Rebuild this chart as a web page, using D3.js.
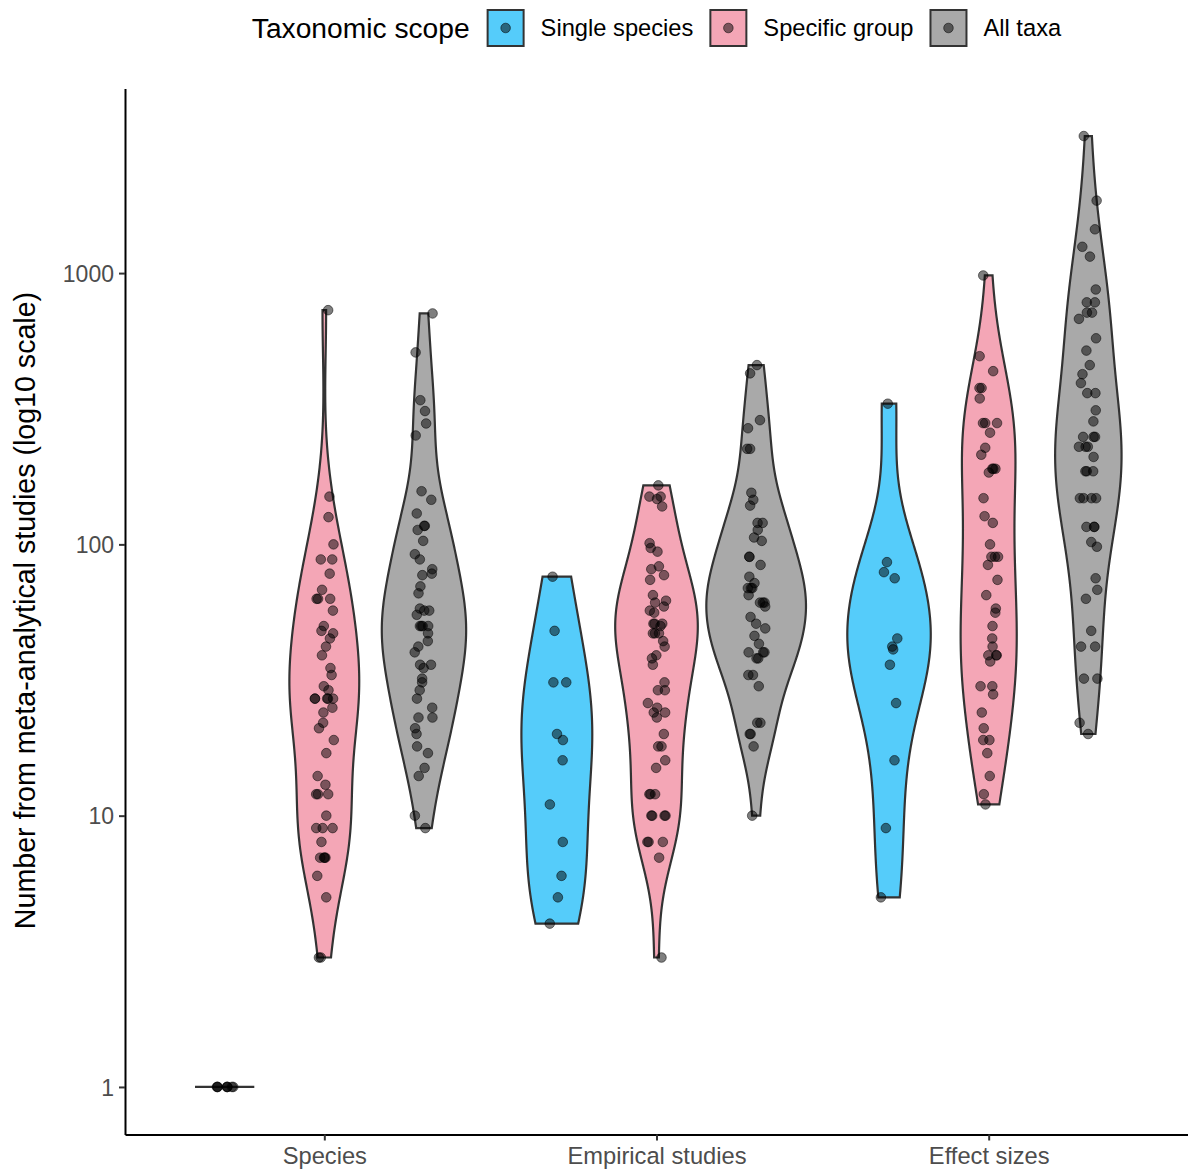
<!DOCTYPE html>
<html>
<head>
<meta charset="utf-8">
<script src="https://cdn.jsdelivr.net/npm/d3@7"></script>
<style>
  body { margin: 0; background: #ffffff; }
  text { font-family: "Liberation Sans", Arial, Helvetica, sans-serif; }
</style>
</head>
<body>
<svg id="chart" width="1188" height="1169"></svg>
<script>
// ---- data -------------------------------------------------------------
const categories = ["Species", "Empirical studies", "Effect sizes"];
const scopes = ["Single species", "Specific group", "All taxa"];
const scopeColors = ["#55CCFA", "#F4A6B6", "#A9A9A9"];
const yTicks = [1, 10, 100, 1000];

// counts per meta-analysis, by measure and taxonomic scope
const speciesSingle = [1, 1, 1, 1, 1, 1, 1, 1];
const speciesGroup = [730, 150, 126, 100, 88, 88, 78, 68, 63, 63, 63, 57, 50, 48, 47, 45, 42, 39,
  35, 33, 30, 29, 27, 27, 27, 27, 27, 25, 24, 22, 21, 19, 17, 14, 13, 12, 12, 12, 10, 9, 9, 9,
  8, 7, 7, 7, 7, 6, 5, 3, 3];
const speciesAll = [710, 510, 340, 310, 279, 252, 157, 146, 130, 117, 117, 113, 103, 92, 88, 81,
  78, 77, 70, 66, 58, 57, 57, 55, 50, 50, 50, 50, 47, 44, 42, 40, 36, 36, 35, 32, 31, 29, 27,
  25, 23, 23, 21, 20, 18, 17, 15, 14, 10, 9];
const empiricalSingle = [76, 48, 31, 31, 20, 19, 16, 11, 8, 6, 5, 4];
const empiricalGroup = [165, 150, 150, 147, 138, 101, 97, 94, 83, 81, 77, 74, 65, 62, 61, 59, 57,
  56, 51, 51, 51, 50, 47, 47, 47, 44, 42, 39, 38, 36, 31, 29, 29, 26, 25, 24, 24, 23, 20, 18,
  18, 16, 15, 12, 12, 12, 10, 10, 10, 10, 8, 8, 8, 7, 3];
const empiricalAll = [458, 427, 287, 268, 225, 225, 155, 146, 139, 120, 120, 113, 106, 103, 90,
  90, 84, 76, 72, 69, 69, 69, 65, 61, 61, 61, 59, 54, 51, 49, 46, 43, 40, 40, 40, 38, 38, 33,
  33, 30, 22, 22, 20, 20, 18, 10];
const effectSingle = [330, 86, 79, 75, 45, 42, 41, 36, 26, 16, 9, 5];
const effectGroup = [980, 494, 435, 377, 377, 345, 280, 280, 280, 258, 227, 214, 190, 190, 190,
  184, 148, 127, 120, 100, 90, 90, 90, 84, 74, 65, 58, 56, 50, 45, 42, 39, 39, 39, 37, 30, 30,
  28, 24, 21, 19, 19, 17, 14, 12, 11];
const effectAll = [3200, 1850, 1450, 1250, 1150, 870, 780, 780, 715, 715, 678, 575, 518, 458, 424,
  393, 361, 361, 312, 284, 249, 249, 249, 229, 229, 229, 210, 186, 186, 186, 148, 148, 148, 148,
  116, 116, 116, 102, 98, 75, 68, 63, 48, 42, 42, 32, 32, 22, 20];

const groups = [
  { category: 0, scope: 0, values: speciesSingle },
  { category: 0, scope: 1, values: speciesGroup },
  { category: 0, scope: 2, values: speciesAll },
  { category: 1, scope: 0, values: empiricalSingle },
  { category: 1, scope: 1, values: empiricalGroup },
  { category: 1, scope: 2, values: empiricalAll },
  { category: 2, scope: 0, values: effectSingle },
  { category: 2, scope: 1, values: effectGroup },
  { category: 2, scope: 2, values: effectAll }
];

// ---- layout -----------------------------------------------------------
const svg = d3.select("#chart");
const panel = { left: 125, right: 1188, top: 88.5, bottom: 1134.5 };
const titleFont = 28.2, axisTitleFont = 28.6, yTickFont = 23, labelFont = 23.7;
const dodgeWidth = 0.9;
const groupWidth = dodgeWidth / scopes.length;

const x = d3.scaleLinear().domain([-0.6, categories.length - 1 + 0.6])
  .range([panel.left, panel.right]);

const allLog = groups.flatMap(g => g.values.map(v => Math.log10(v)));
const [lmin, lmax] = d3.extent(allLog);
const pad = (lmax - lmin) * 0.05;
const y = d3.scaleLog().domain([Math.pow(10, lmin - pad), Math.pow(10, lmax + pad)])
  .range([panel.bottom, panel.top]);

const groupCenter = g => g.category + (g.scope - (scopes.length - 1) / 2) * groupWidth;

// ---- kernel density on the log10 scale (R's nrd0 bandwidth) -----------
function bwNrd0(arr) {
  const n = arr.length;
  const s = arr.slice().sort(d3.ascending);
  const hi = n > 1 ? d3.deviation(s) : 0;
  const iqr = d3.quantileSorted(s, 0.75) - d3.quantileSorted(s, 0.25);
  let lo = Math.min(hi, iqr / 1.34);
  if (!(lo > 0)) lo = hi || Math.abs(s[0]) || 1;
  return 0.9 * lo * Math.pow(n, -0.2);
}
function kde(arr, n = 512) {
  const bw = bwNrd0(arr);
  const [a, b] = d3.extent(arr);
  const k = 1 / (arr.length * bw * Math.sqrt(2 * Math.PI));
  const out = [];
  for (let i = 0; i < n; i++) {
    const t = a + (b - a) * i / (n - 1);
    let s = 0;
    for (const v of arr) { const u = (t - v) / bw; s += Math.exp(-0.5 * u * u); }
    out.push([t, s * k]);
  }
  return out;
}
groups.forEach(g => { g.density = kde(g.values.map(v => Math.log10(v))); });
const maxDensity = d3.max(groups, g => d3.max(g.density, d => d[1]));

// ---- violins ------------------------------------------------------------
const unit = x(1) - x(0);
const halfMax = groupWidth / 2 * unit;
const line = d3.line();

svg.append("g").selectAll("path")
  .data(groups)
  .join("path")
  .attr("d", g => {
    const cx = x(groupCenter(g));
    const right = g.density.map(([t, d]) => [cx + d / maxDensity * halfMax, y(Math.pow(10, t))]);
    const left = g.density.slice().reverse().map(([t, d]) => [cx - d / maxDensity * halfMax, y(Math.pow(10, t))]);
    return line(right.concat(left)) + "Z";
  })
  .attr("fill", g => scopeColors[g.scope])
  .attr("stroke", "#333333")
  .attr("stroke-width", 2.2)
  .attr("stroke-linejoin", "miter");

// ---- jittered points ----------------------------------------------------
const pointR = 4.8;
const pointFill = "rgba(0,0,0,0.5)";
const rng = d3.randomLcg(0.2718);
const jitterPx = 9.5;
const pts = groups.flatMap(g => g.values.map(v => ({
  cx: x(groupCenter(g)) + (rng() * 2 - 1) * jitterPx,
  v
})));
svg.append("g").selectAll("circle")
  .data(pts)
  .join("circle")
  .attr("cx", d => d.cx)
  .attr("cy", d => y(d.v))
  .attr("r", pointR)
  .attr("fill", pointFill)
  .attr("stroke", pointFill)
  .attr("stroke-width", 1);

// ---- axes ----------------------------------------------------------------
const yAxis = svg.append("g")
  .attr("transform", `translate(${panel.left},0)`)
  .call(d3.axisLeft(y).tickValues(yTicks).tickFormat(d3.format("d")).tickSize(6).tickSizeOuter(0).tickPadding(5));
const xAxis = svg.append("g")
  .attr("transform", `translate(0,${panel.bottom})`)
  .call(d3.axisBottom(x).tickValues(d3.range(categories.length)).tickFormat(i => categories[i])
    .tickSize(6).tickSizeOuter(0).tickPadding(6));
[yAxis, xAxis].forEach(ax => {
  ax.select(".domain").attr("stroke", "#000").attr("stroke-width", 2);
  ax.selectAll(".tick line").attr("stroke", "#333333").attr("stroke-width", 2);
  ax.selectAll(".tick text").attr("fill", "#4D4D4D")
    .style("font-family", '"Liberation Sans", Arial, sans-serif');
});
yAxis.selectAll(".tick text").style("font-size", yTickFont + "px").attr("dy", "0.36em");
xAxis.selectAll(".tick text").style("font-size", labelFont + "px").attr("dy", "0.75em");

svg.append("text")
  .attr("transform", `translate(35,${(panel.top + panel.bottom) / 2 - 1}) rotate(-90)`)
  .attr("text-anchor", "middle")
  .style("font-size", axisTitleFont + "px")
  .attr("fill", "#000")
  .text("Number from meta-analytical studies (log10 scale)");

// ---- legend ----------------------------------------------------------------
const legend = svg.append("g");
const keySize = 36, legendMid = 28;
const title = legend.append("text")
  .attr("y", legendMid).attr("dy", "0.35em")
  .style("font-size", titleFont + "px").attr("fill", "#000")
  .text("Taxonomic scope");
const labels = scopes.map(s => legend.append("text")
  .attr("y", legendMid).attr("dy", "0.35em")
  .style("font-size", labelFont + "px").attr("fill", "#000").text(s));
const gapTitle = 18, gapKey = 17, gapItem = 17;
const widths = labels.map(l => l.node().getComputedTextLength());
const titleW = title.node().getComputedTextLength();
const total = titleW + gapTitle + d3.sum(widths) + scopes.length * (keySize + gapKey) + (scopes.length - 1) * gapItem;
let cursor = (panel.left + panel.right) / 2 - total / 2;
title.attr("x", cursor);
cursor += titleW + gapTitle;
scopes.forEach((s, i) => {
  legend.append("rect")
    .attr("x", cursor).attr("y", legendMid - keySize / 2)
    .attr("width", keySize).attr("height", keySize)
    .attr("fill", scopeColors[i]).attr("stroke", "#333333").attr("stroke-width", 2);
  legend.append("circle")
    .attr("cx", cursor + keySize / 2).attr("cy", legendMid).attr("r", pointR)
    .attr("fill", pointFill).attr("stroke", pointFill).attr("stroke-width", 1);
  cursor += keySize + gapKey;
  labels[i].attr("x", cursor);
  cursor += widths[i] + gapItem;
});
</script>
</body>
</html>
